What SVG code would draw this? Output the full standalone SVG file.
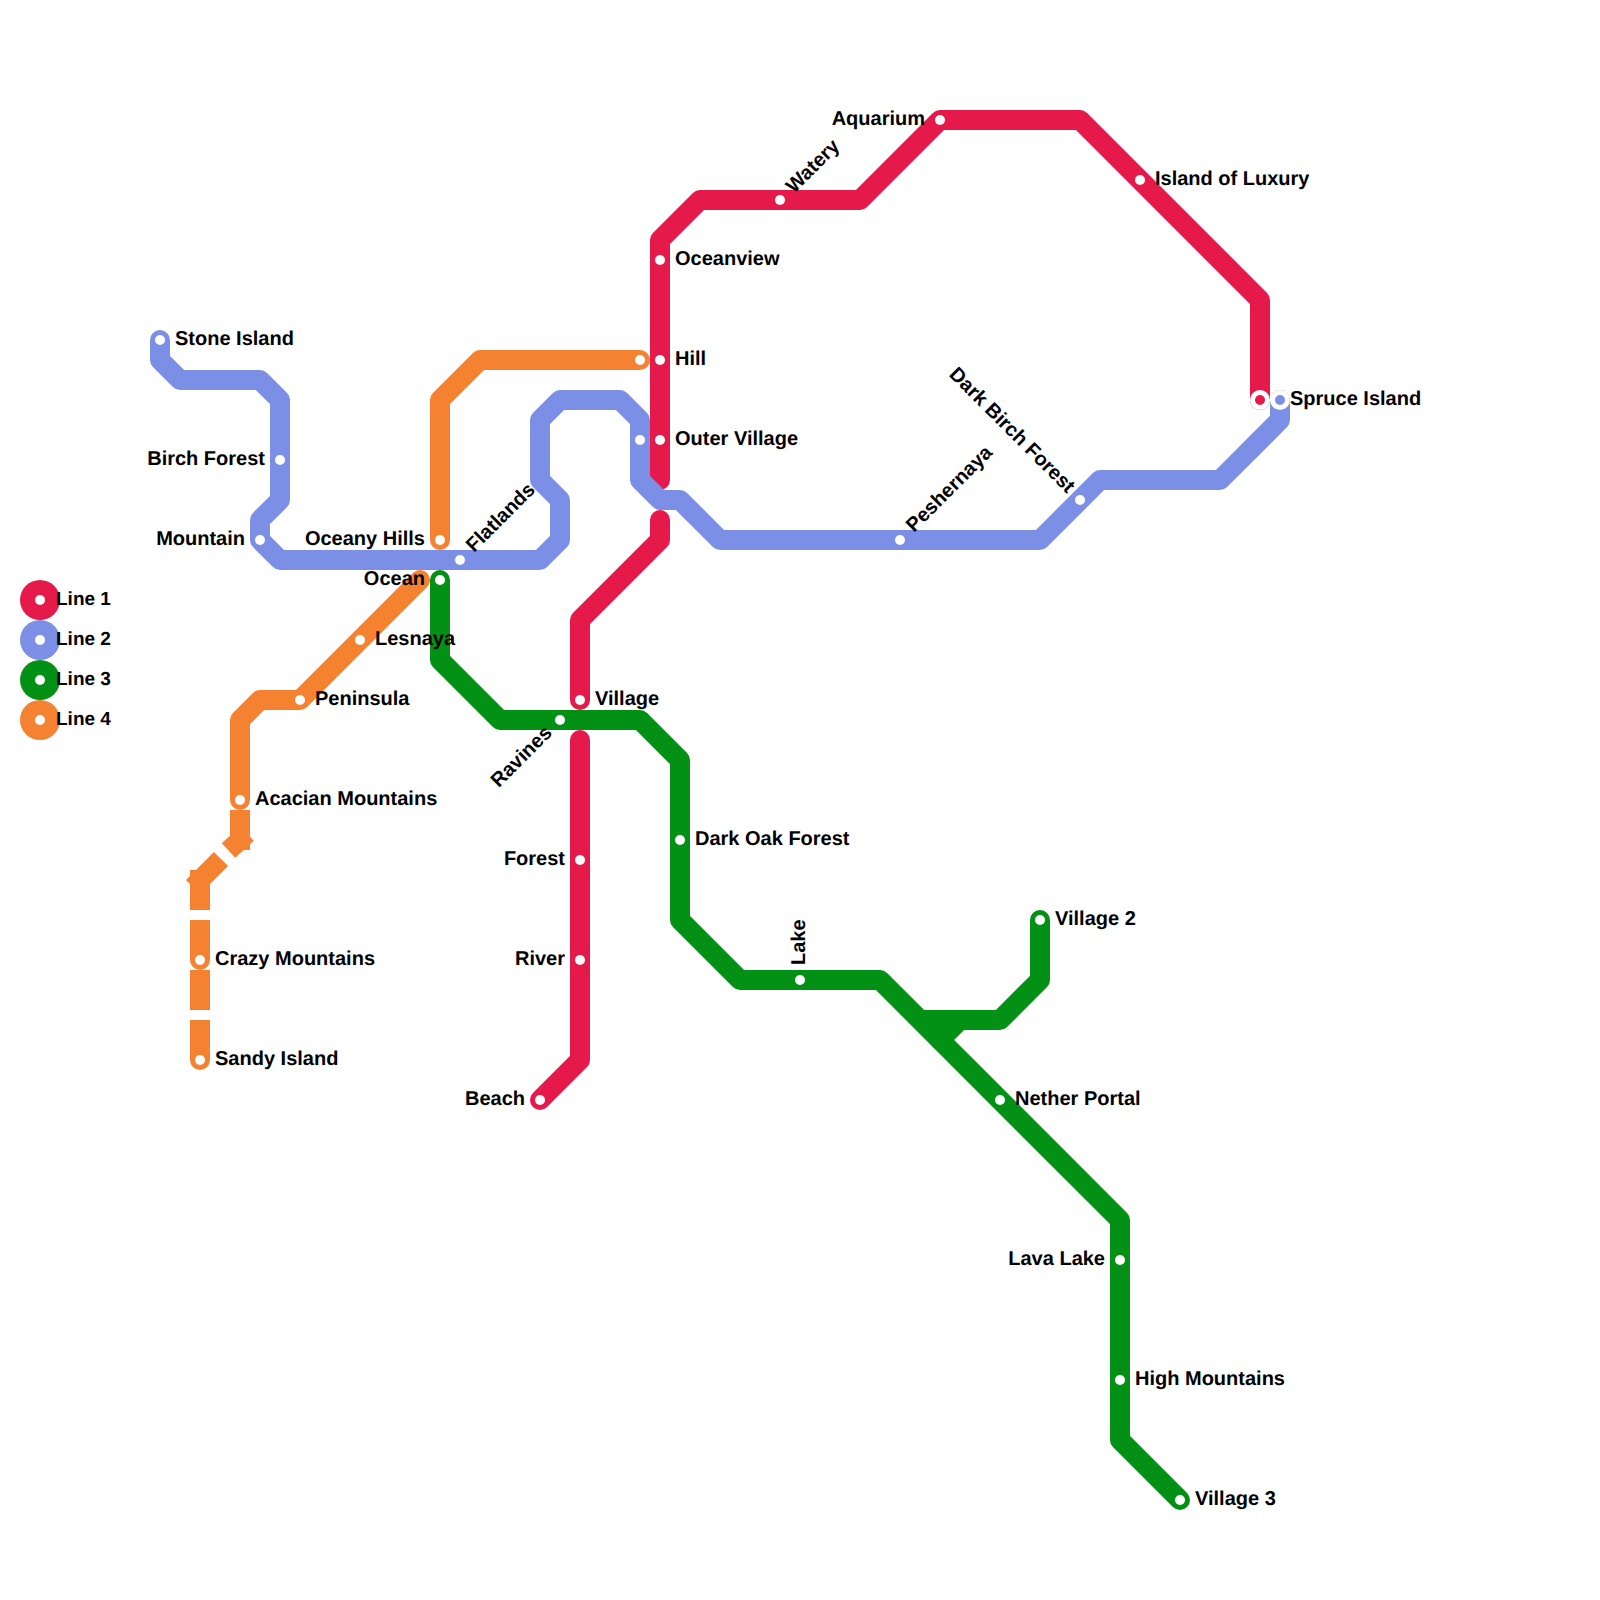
<svg xmlns="http://www.w3.org/2000/svg" width="1600" height="1600" viewBox="0 0 1600 1600">
<style>
.l{fill:none;stroke-width:20;stroke-linejoin:round;stroke-linecap:round}
.b{fill:none;stroke-width:20;stroke-linecap:butt}
.r{stroke:#e6194b}.u{stroke:#7a8fe5}.g{stroke:#029015}.o{stroke:#f58231}
.d{fill:#fff}
.c{fill:#fff}
text{font-family:"Liberation Sans",Arial,sans-serif;font-weight:700;font-size:20px;fill:#000;text-rendering:geometricPrecision}
.e{text-anchor:end}
#legend text{font-size:19px}
</style>
<rect width="1600" height="1600" fill="#fff"/>
<g id="connectors">
<path class="l r" d="M1260 400V300L1080 120H940L860 200H700L660 240V480"/>
<path class="l r" d="M660 520V540L580 620V700"/>
<path class="l r" d="M580 740V1060L540 1100"/>
<path class="l u" d="M160 340V360L180 380H260L280 400V500L260 520V540L280 560H540L560 540V500L540 480V420L560 400H620L640 420V480L660 500H680L720 540H1040L1100 480H1220L1280 420V400"/>
<path class="l g" d="M440 580V660L500 720H640L680 760V920L740 980H880L1120 1220V1440L1180 1500"/>
<path class="l g" d="M1040 920V980L1000 1020H960L940 1040"/>
<path class="b g" d="M1000 1020H924"/>
<path class="l o" d="M640 360H480L440 400V540"/>
<path class="l o" d="M420 580L300 700H260L240 720V800"/>
<path class="b o" d="M240 810V850M247 833.500L228.500 850.500M221 859L193 887M200 870V910M200 920V960M200 970V1010M200 1020V1060"/>
<circle cx="200" cy="960" r="10" fill="#f58231"/>
<circle cx="200" cy="1060" r="10" fill="#f58231"/>
</g>
<g id="legend">
<g id="legend-1"><circle cx="40" cy="600" r="20" fill="#e6194b"/><circle class="d" cx="40" cy="600" r="5"/><text x="56" y="605">Line 1</text></g>
<g id="legend-2"><circle cx="40" cy="640" r="20" fill="#7a8fe5"/><circle class="d" cx="40" cy="640" r="5"/><text x="56" y="645">Line 2</text></g>
<g id="legend-3"><circle cx="40" cy="680" r="20" fill="#029015"/><circle class="d" cx="40" cy="680" r="5"/><text x="56" y="685">Line 3</text></g>
<g id="legend-4"><circle cx="40" cy="720" r="20" fill="#f58231"/><circle class="d" cx="40" cy="720" r="5"/><text x="56" y="725">Line 4</text></g>
</g>
<g id="stations">
<g id="aquarium"><circle class="d" cx="940" cy="120" r="5"/><text class="e" x="925" y="125">Aquarium</text></g>
<g id="island-of-luxury"><circle class="d" cx="1140" cy="180" r="5"/><text x="1155" y="185">Island of Luxury</text></g>
<g id="watery"><circle class="d" cx="780" cy="200" r="5"/><text transform="translate(794 194) rotate(-45)">Watery</text></g>
<g id="oceanview"><circle class="d" cx="660" cy="260" r="5"/><text x="675" y="265">Oceanview</text></g>
<g id="hill"><circle class="d" cx="660" cy="360" r="5"/><text x="675" y="365">Hill</text></g>
<g id="outer-village"><circle class="d" cx="660" cy="440" r="5"/><circle class="d" cx="640" cy="440" r="5"/><text x="675" y="445">Outer Village</text></g>
<g id="village"><circle class="d" cx="580" cy="700" r="5"/><text x="595" y="705">Village</text></g>
<g id="forest"><circle class="d" cx="580" cy="860" r="5"/><text class="e" x="565" y="865">Forest</text></g>
<g id="river"><circle class="d" cx="580" cy="960" r="5"/><text class="e" x="565" y="965">River</text></g>
<g id="beach"><circle class="d" cx="540" cy="1100" r="5"/><text class="e" x="525" y="1105">Beach</text></g>
<g id="spruce-island"><circle class="c" cx="1260" cy="400" r="10"/><circle cx="1260" cy="400" r="5" fill="#e6194b"/><circle class="c" cx="1280" cy="400" r="10"/><circle cx="1280" cy="400" r="5" fill="#7a8fe5"/><text x="1290" y="405">Spruce Island</text></g>
<g id="stone-island"><circle class="d" cx="160" cy="340" r="5"/><text x="175" y="345">Stone Island</text></g>
<g id="birch-forest"><circle class="d" cx="280" cy="460" r="5"/><text class="e" x="265" y="465">Birch Forest</text></g>
<g id="mountain"><circle class="d" cx="260" cy="540" r="5"/><text class="e" x="245" y="545">Mountain</text></g>
<g id="flatlands"><circle class="d" cx="460" cy="560" r="5"/><text transform="translate(474 553) rotate(-45)">Flatlands</text></g>
<g id="peshernaya"><circle class="d" cx="900" cy="540" r="5"/><text transform="translate(914 533) rotate(-45)">Peshernaya</text></g>
<g id="dark-birch-forest"><circle class="d" cx="1080" cy="500" r="5"/><text class="e" transform="translate(1067 494) rotate(45)">Dark Birch Forest</text></g>
<g id="ocean"><circle class="d" cx="440" cy="580" r="5"/><text class="e" x="425" y="585">Ocean</text></g>
<g id="ravines"><circle class="d" cx="560" cy="720" r="5"/><text class="e" transform="translate(553 734) rotate(-45)">Ravines</text></g>
<g id="dark-oak-forest"><circle class="d" cx="680" cy="840" r="5"/><text x="695" y="845">Dark Oak Forest</text></g>
<g id="lake"><circle class="d" cx="800" cy="980" r="5"/><text transform="translate(804.500 965) rotate(-90)">Lake</text></g>
<g id="village-2"><circle class="d" cx="1040" cy="920" r="5"/><text x="1055" y="925">Village 2</text></g>
<g id="nether-portal"><circle class="d" cx="1000" cy="1100" r="5"/><text x="1015" y="1105">Nether Portal</text></g>
<g id="lava-lake"><circle class="d" cx="1120" cy="1260" r="5"/><text class="e" x="1105" y="1265">Lava Lake</text></g>
<g id="high-mountains"><circle class="d" cx="1120" cy="1380" r="5"/><text x="1135" y="1385">High Mountains</text></g>
<g id="village-3"><circle class="d" cx="1180" cy="1500" r="5"/><text x="1195" y="1505">Village 3</text></g>
<g id="hill-west"><circle class="d" cx="640" cy="360" r="5"/></g>
<g id="oceany-hills"><circle class="d" cx="440" cy="540" r="5"/><text class="e" x="425" y="545">Oceany Hills</text></g>
<g id="lesnaya"><circle class="d" cx="360" cy="640" r="5"/><text x="375" y="645">Lesnaya</text></g>
<g id="peninsula"><circle class="d" cx="300" cy="700" r="5"/><text x="315" y="705">Peninsula</text></g>
<g id="acacian-mountains"><circle class="d" cx="240" cy="800" r="5"/><text x="255" y="805">Acacian Mountains</text></g>
<g id="crazy-mountains"><circle class="d" cx="200" cy="960" r="5"/><text x="215" y="965">Crazy Mountains</text></g>
<g id="sandy-island"><circle class="d" cx="200" cy="1060" r="5"/><text x="215" y="1065">Sandy Island</text></g>
</g>
</svg>
